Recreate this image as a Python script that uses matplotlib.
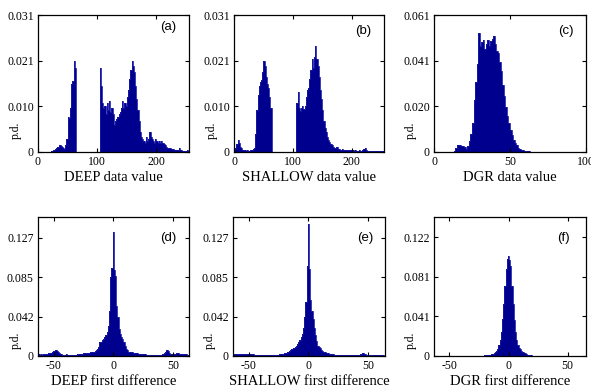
import matplotlib
matplotlib.use('Agg')
import matplotlib.pyplot as plt
import numpy as np

# histogram values (probability density)
# data value panels: bins of width 2 from 0 (DEEP, SHALLOW), width 1 from 0 (DGR)
deep_pd = [
    0.0001, 0.0001, 0.0001, 0.0001, 0.0001, 0.0001, 0.0001, 0.0001, 0.0001, 0.0001,
    0.0001, 0.0002, 0.0003, 0.0004, 0.0006, 0.0010, 0.0012, 0.0011, 0.0015, 0.0013,
    0.0011, 0.0009, 0.0006, 0.0015, 0.0030, 0.0080, 0.0078, 0.0100, 0.0155, 0.0160,
    0.0205, 0.0190, 0, 0, 0, 0, 0, 0, 0, 0,
    0, 0, 0, 0, 0, 0, 0, 0, 0, 0,
    0, 0, 0.0190, 0.0150, 0.0110, 0.0100, 0.0105, 0.0085, 0.0110, 0.0095,
    0.0115, 0.0090, 0.0100, 0.0085, 0.0060, 0.0070, 0.0075, 0.0080, 0.0085, 0.0090,
    0.0100, 0.0115, 0.0100, 0.0110, 0.0105, 0.0125, 0.0140, 0.0165, 0.0185, 0.0205,
    0.0195, 0.0180, 0.0150, 0.0120, 0.0095, 0.0070, 0.0045, 0.0035, 0.0030, 0.0025,
    0.0020, 0.0035, 0.0025, 0.0030, 0.0045, 0.0035, 0.0030, 0.0025, 0.0020, 0.0030,
    0.0025, 0.0020, 0.0025, 0.0020, 0.0025, 0.0020, 0.0018, 0.0015, 0.0012, 0.0010,
    0.0008, 0.0009, 0.0007, 0.0006, 0.0006, 0.0005, 0.0005, 0.0005, 0.0004, 0.0008,
    0.0005, 0.0004, 0.0003, 0.0003, 0.0003, 0.0002, 0.0004, 0.0002,
]
shallow_pd = [
    0.0005, 0.0008, 0.0018, 0.0027, 0.0020, 0.0012, 0.0008, 0.0005, 0.0004, 0.0004,
    0.0003, 0.0004, 0.0003, 0.0003, 0.0004, 0.0005, 0.0006, 0.0010, 0.0040, 0.0095,
    0.0130, 0.0150, 0.0158, 0.0162, 0.0180, 0.0205, 0.0195, 0.0170, 0.0155, 0.0145,
    0.0125, 0.0100, 0, 0, 0, 0, 0, 0, 0, 0,
    0, 0, 0, 0, 0, 0, 0, 0, 0, 0,
    0, 0, 0, 0.0110, 0.0135, 0.0100, 0.0092, 0.0100, 0.0105, 0.0098,
    0.0105, 0.0125, 0.0140, 0.0145, 0.0165, 0.0185, 0.0210, 0.0190, 0.0215, 0.0240,
    0.0210, 0.0195, 0.0170, 0.0140, 0.0120, 0.0095, 0.0070, 0.0055, 0.0045, 0.0035,
    0.0028, 0.0022, 0.0018, 0.0015, 0.0012, 0.0010, 0.0008, 0.0012, 0.0007, 0.0006,
    0.0005, 0.0005, 0.0006, 0.0005, 0.0004, 0.0005, 0.0004, 0.0004, 0.0005, 0.0004,
    0.0003, 0.0004, 0.0003, 0.0004, 0.0003, 0.0003, 0.0004, 0.0003, 0.0003, 0.0004,
    0.0006, 0.0008, 0.0005, 0.0003, 0.0003, 0.0002, 0.0003, 0.0002, 0.0003, 0.0002,
    0.0002, 0.0003, 0.0002, 0.0002, 0.0002, 0.0003, 0.0002, 0.0002,
]
dgr_pd = [
    0, 0, 0, 0, 0, 0, 0, 0, 0, 0,
    0, 0, 0, 0.0005, 0.0020, 0.0032, 0.0030, 0.0031, 0.0028, 0.0025,
    0.0022, 0.0015, 0.0025, 0.0050, 0.0080, 0.0130, 0.0230, 0.0310, 0.0390, 0.0530,
    0.0470, 0.0490, 0.0500, 0.0460, 0.0480, 0.0500, 0.0470, 0.0495, 0.0505, 0.0515,
    0.0480, 0.0450, 0.0440, 0.0400, 0.0360, 0.0300, 0.0250, 0.0200, 0.0160, 0.0130,
    0.0100, 0.0075, 0.0055, 0.0040, 0.0030, 0.0020, 0.0012, 0.0008, 0.0010, 0.0006,
    0.0004, 0.0003, 0.0003, 0.0002, 0.0002, 0.0002, 0.0001, 0.0001, 0.0001, 0.0001,
]

# first difference panels: unit bins centred on -63 .. 63
deep_diff_pd = [
    0.0015, 0.0018, 0.0015, 0.0017, 0.0015, 0.0018, 0.0020, 0.0022, 0.0025, 0.0028, 0.0030, 0.0035,
    0.0040, 0.0050, 0.0055, 0.0060, 0.0052, 0.0040, 0.0030, 0.0022,
    0.0018, 0.0015, 0.0012, 0.0015, 0.0018, 0.0015, 0.0012, 0.0010, 0.0012, 0.0015,
    0.0012, 0.0010, 0.0015, 0.0020, 0.0025, 0.0022, 0.0020, 0.0025,
    0.0030, 0.0035, 0.0030, 0.0028, 0.0032, 0.0035, 0.0040, 0.0038, 0.0042, 0.0045, 0.0050, 0.0060,
    0.0075, 0.0100, 0.0150, 0.0155, 0.0170, 0.0180, 0.0200, 0.0230, 0.0260, 0.0320,
    0.0480, 0.0850, 0.0940, 0.1330, 0.0920, 0.0860, 0.0540,
    0.0420, 0.0290, 0.0240, 0.0200, 0.0180, 0.0150, 0.0110, 0.0080, 0.0060, 0.0048,
    0.0042, 0.0040, 0.0038, 0.0035, 0.0032, 0.0030, 0.0028, 0.0025, 0.0025, 0.0022,
    0.0020, 0.0022, 0.0020, 0.0018, 0.0016, 0.0015, 0.0015,
    0.0012, 0.0014, 0.0012, 0.0010, 0.0012, 0.0010, 0.0012, 0.0014, 0.0012, 0.0015, 0.0018, 0.0020,
    0.0030, 0.0045, 0.0060, 0.0050, 0.0035, 0.0025, 0.0020,
    0.0018, 0.0020, 0.0022, 0.0030, 0.0032, 0.0030, 0.0022, 0.0020, 0.0025, 0.0020, 0.0018, 0.0020,
    0.0015, 0.0015,
]
shallow_diff_pd = [
    0.0018, 0.0022, 0.0020, 0.0018, 0.0022, 0.0020, 0.0018, 0.0020, 0.0022, 0.0020, 0.0018, 0.0020,
    0.0022, 0.0025, 0.0022, 0.0025, 0.0020, 0.0018, 0.0015, 0.0012,
    0.0010, 0.0010, 0.0008, 0.0010, 0.0008, 0.0010, 0.0008, 0.0008, 0.0010, 0.0008,
    0.0010, 0.0010, 0.0012, 0.0010, 0.0012, 0.0014, 0.0012, 0.0015,
    0.0015, 0.0018, 0.0020, 0.0022, 0.0025, 0.0028, 0.0030, 0.0035, 0.0040, 0.0050, 0.0060, 0.0070,
    0.0080, 0.0090, 0.0100, 0.0110, 0.0130, 0.0150, 0.0170, 0.0200, 0.0240, 0.0300,
    0.0420, 0.0580, 0.0970, 0.1420, 0.0930, 0.0600, 0.0480,
    0.0400, 0.0300, 0.0220, 0.0160, 0.0110, 0.0100, 0.0085, 0.0065, 0.0050, 0.0045,
    0.0040, 0.0035, 0.0030, 0.0028, 0.0025, 0.0022, 0.0020, 0.0018, 0.0016, 0.0015,
    0.0014, 0.0013, 0.0012, 0.0012, 0.0011, 0.0010, 0.0010,
    0.0010, 0.0009, 0.0010, 0.0009, 0.0010, 0.0009, 0.0008, 0.0009, 0.0010, 0.0010, 0.0010, 0.0012,
    0.0015, 0.0025, 0.0030, 0.0028, 0.0022, 0.0018, 0.0015,
    0.0012, 0.0010, 0.0012, 0.0010, 0.0012, 0.0015, 0.0012, 0.0010, 0.0012, 0.0015, 0.0012, 0.0010,
    0.0012, 0.0010,
]
dgr_diff_pd = [
    0.0003, 0.0002, 0.0003, 0.0003, 0.0002, 0.0003, 0.0002, 0.0003, 0.0003, 0.0002,
    0.0003, 0.0002, 0.0003, 0.0002, 0.0003, 0.0003, 0.0002, 0.0003, 0.0002, 0.0003,
    0.0003, 0.0002, 0.0003, 0.0002, 0.0003, 0.0003, 0.0002, 0.0003, 0.0003, 0.0002,
    0.0003, 0.0003, 0.0004, 0.0003, 0.0003, 0.0004, 0.0003, 0.0004, 0.0004, 0.0005,
    0.0004, 0.0005, 0.0005,
    0.0006, 0.0007, 0.0008, 0.0010, 0.0012, 0.0015,
    0.0020, 0.0025, 0.0030, 0.0040, 0.0055, 0.0075, 0.0110,
    0.0160, 0.0250, 0.0380, 0.0540, 0.0720, 0.0900, 0.1000,
    0.1030, 0.0990, 0.0930, 0.0720, 0.0540, 0.0370, 0.0250, 0.0160,
    0.0110, 0.0085, 0.0070, 0.0055, 0.0045, 0.0040, 0.0030, 0.0024,
    0.0015, 0.0010, 0.0008, 0.0006, 0.0005,
    0.0005, 0.0004, 0.0004, 0.0003, 0.0004, 0.0003, 0.0003, 0.0003, 0.0002, 0.0003,
    0.0003, 0.0002, 0.0003, 0.0002, 0.0003, 0.0003, 0.0002, 0.0003, 0.0002, 0.0003,
    0.0003, 0.0002, 0.0003, 0.0002, 0.0003, 0.0003, 0.0002, 0.0003, 0.0003, 0.0002,
    0.0003, 0.0002, 0.0003, 0.0002, 0.0003, 0.0003, 0.0002, 0.0003, 0.0002, 0.0003,
    0.0002, 0.0003, 0.0002,
]

x_labels = ['DEEP data value', 'SHALLOW data value', 'DGR data value',
            'DEEP first difference', 'SHALLOW first difference', 'DGR first difference']
panel_tags = ['(a)', '(b)', '(c)', '(d)', '(e)', '(f)']
y_tops = [0.031, 0.031, 0.061, 0.127, 0.127, 0.122]

BAR = '#00008F'
SERIF = 'Liberation Serif'


def fazer_painel(ax, valores, primeira_borda, largura, xlim, xticks, ytop, ymax,
                 xlabel, tag, tag_pos):
    bordas = primeira_borda + largura * np.arange(len(valores) + 1)
    ax.stairs(valores, bordas, fill=True, color=BAR)
    ax.stairs(valores, bordas, fill=False, color='#1a1aa8', linewidth=0.6)
    ax.set_xlim(xlim)
    ax.set_ylim(0, ymax)
    ax.set_xticks(xticks)
    ax.set_xticklabels([str(t) for t in xticks])
    yt = np.linspace(0, ytop, 4)
    ax.set_yticks(yt)
    ax.set_yticklabels(['0'] + ['%.3f' % v for v in yt[1:]])
    ax.tick_params(direction='in', length=3, width=0.8, top=True, right=True,
                   labelsize=8.5, pad=3)
    for lab in ax.get_xticklabels() + ax.get_yticklabels():
        lab.set_fontfamily(SERIF)
    for s in ax.spines.values():
        s.set_linewidth(0.9)
    ax.set_xlabel(xlabel, fontsize=10.5, fontfamily=SERIF, labelpad=2)
    ax.set_ylabel('p.d.', fontsize=8.5, fontfamily=SERIF)
    ax.yaxis.set_label_coords(-0.11, tag_pos[2])
    ax.text(tag_pos[0], tag_pos[1], tag, transform=ax.transAxes, ha='center',
            va='center', fontsize=9.5, fontfamily='Liberation Sans')


if __name__ == '__main__':
    fig = plt.figure(figsize=(5.91, 3.92), dpi=100)
    W, H = 591.0, 392.0

    # axes boxes in pixels: left, top, right, bottom
    caixas = [(38, 15, 189, 152), (234, 15, 384, 152), (434, 15, 586, 152),
              (38, 217, 189, 356), (233, 217, 385, 356), (434, 217, 586, 356)]
    eixos = []
    for (l, t, r, b) in caixas:
        eixos.append(fig.add_axes([l / W, 1 - b / H, (r - l) / W, (b - t) / H]))

    fazer_painel(eixos[0], deep_pd, 0, 2, (0, 255), [0, 100, 200],
                 y_tops[0], 0.031, x_labels[0], panel_tags[0], (0.86, 0.91, 0.16))
    fazer_painel(eixos[1], shallow_pd, 0, 2, (0, 255), [0, 100, 200],
                 y_tops[1], 0.031, x_labels[1], panel_tags[1], (0.86, 0.88, 0.16))
    fazer_painel(eixos[2], dgr_pd, 0, 1, (0, 100), [0, 50, 100],
                 y_tops[2], 0.061, x_labels[2], panel_tags[2], (0.87, 0.88, 0.16))
    fazer_painel(eixos[3], deep_diff_pd, -63.5, 1, (-63, 63.5), [-50, 0, 50],
                 y_tops[3], 0.149, x_labels[3], panel_tags[3], (0.86, 0.85, 0.115))
    fazer_painel(eixos[4], shallow_diff_pd, -63.5, 1, (-63, 64), [-50, 0, 50],
                 y_tops[4], 0.149, x_labels[4], panel_tags[4], (0.87, 0.85, 0.115))
    fazer_painel(eixos[5], dgr_diff_pd, -63.5, 1, (-63, 65.5), [-50, 0, 50],
                 y_tops[5], 0.143, x_labels[5], panel_tags[5], (0.85, 0.85, 0.115))

    plt.savefig('out.png', dpi=100)
